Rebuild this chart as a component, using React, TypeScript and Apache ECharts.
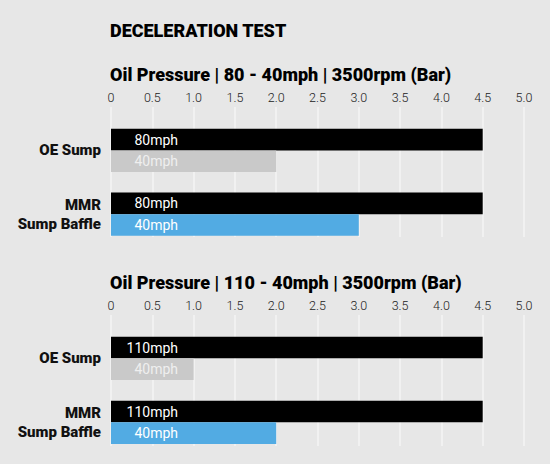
import React, { useEffect, useRef } from "react";
import * as echarts from "echarts";

const mainTitle = "DECELERATION TEST";
const categories = ["OE Sump", "MMR\nSump Baffle"];
const tickLabels = ["0", "0.5", "1.0", "1.5", "2.0", "2.5", "3.0", "3.5", "4.0", "4.5", "5.0"];

const test1Title = "Oil Pressure | 80 - 40mph | 3500rpm (Bar)";
const test1HighName = "80mph";
const test1LowName = "40mph";
const test1High = [4.5, 4.5];
const test1Low = [2.0, 3.0];

const test2Title = "Oil Pressure | 110 - 40mph | 3500rpm (Bar)";
const test2HighName = "110mph";
const test2LowName = "40mph";
const test2High = [4.5, 4.5];
const test2Low = [1.0, 2.0];

const FONT = "Roboto, 'Noto Sans', sans-serif";
const BG = "#e7e7e7";
const BLACK = "#000000";
const GREY = "#c9c9c9";
const BLUE = "#52abe3";

export default function App() {
  const ref = useRef<HTMLDivElement>(null);
  useEffect(() => {
    document.body.style.margin = "0";
    document.body.style.background = BG;
    if (!ref.current) return;
    const chart = echarts.init(ref.current, null, { renderer: "svg" });

    const gridLeft = 111;
    const gridWidth = 413;
    const axisGrids = [
      { left: gridLeft, width: gridWidth, top: 107, height: 130 },
      { left: gridLeft, width: gridWidth, top: 315, height: 131 },
    ];
    const barGrids = [
      { left: gridLeft, width: gridWidth, top: 118.5, height: 127.5 },
      { left: gridLeft, width: gridWidth, top: 326.3, height: 128 },
    ];

    const xAxisShown = (gridIndex: number) => ({
      type: "value",
      gridIndex,
      min: 0,
      max: 5,
      interval: 0.5,
      position: "top",
      axisLine: { show: false },
      axisTick: { show: false },
      axisLabel: {
        margin: 3,
        fontFamily: FONT,
        fontSize: 12.5,
        fontWeight: 300,
        color: "#222",
        formatter: (v: number) => tickLabels[Math.round(v / 0.5)],
      },
      splitLine: { show: true, lineStyle: { color: "#f4f4f4", width: 1.5 } },
    });
    const xAxisHidden = (gridIndex: number) => ({
      type: "value",
      gridIndex,
      min: 0,
      max: 5,
      show: false,
      splitLine: { show: false },
    });
    const yAxisHidden = (gridIndex: number) => ({
      type: "category",
      gridIndex,
      data: categories,
      show: false,
    });
    const yAxisShown = (gridIndex: number) => ({
      type: "category",
      gridIndex,
      data: categories,
      inverse: true,
      axisLine: { show: false },
      axisTick: { show: false },
      splitLine: { show: false },
      axisLabel: {
        margin: 10,
        fontFamily: FONT,
        fontSize: 15,
        fontWeight: 900,
        color: "#111",
        lineHeight: 19,
        align: "right",
      },
    });

    const barLabel = (color: string) => ({
      show: true,
      position: [67, "50%"],
      align: "right",
      verticalAlign: "middle",
      fontFamily: FONT,
      fontSize: 14,
      fontWeight: 400,
      color,
      formatter: (p: any) => p.seriesName,
    });

    const makeSeries = (
      axisIndex: number,
      highName: string,
      high: number[],
      lowName: string,
      low: number[]
    ) => [
      {
        type: "bar",
        name: highName,
        xAxisIndex: axisIndex,
        yAxisIndex: axisIndex,
        data: high,
        barGap: "0%",
        barCategoryGap: "32.5%",
        itemStyle: { color: BLACK },
        label: barLabel("#ffffff"),
      },
      {
        type: "bar",
        name: lowName,
        xAxisIndex: axisIndex,
        yAxisIndex: axisIndex,
        barGap: "0%",
        barCategoryGap: "32.5%",
        data: low.map((v, i) => ({
          value: v,
          itemStyle: { color: i === 0 ? GREY : BLUE },
          label: { color: i === 0 ? "#efefef" : "#ffffff" },
        })),
        label: barLabel("#ffffff"),
      },
    ];

    const titleText = (text: string, y: number, size: number) => ({
      type: "text",
      x: 110,
      y,
      style: {
        text,
        fill: "#000",
        font: `900 ${size}px ${FONT}`,
        verticalAlign: "middle",
        align: "left",
      },
    });

    chart.setOption({
      animation: false,
      backgroundColor: BG,
      grid: [axisGrids[0], barGrids[0], axisGrids[1], barGrids[1]],
      xAxis: [xAxisShown(0), xAxisHidden(1), xAxisShown(2), xAxisHidden(3)],
      yAxis: [yAxisHidden(0), yAxisShown(1), yAxisHidden(2), yAxisShown(3)],
      series: [
        ...makeSeries(1, test1HighName, test1High, test1LowName, test1Low),
        ...makeSeries(3, test2HighName, test2High, test2LowName, test2Low),
      ],
      graphic: [
        titleText(mainTitle, 30, 18),
        titleText(test1Title, 74.5, 18),
        titleText(test2Title, 282.5, 18),
      ],
    });
    return () => chart.dispose();
  }, []);
  return <div ref={ref} style={{ width: 550, height: 464 }} />;
}
